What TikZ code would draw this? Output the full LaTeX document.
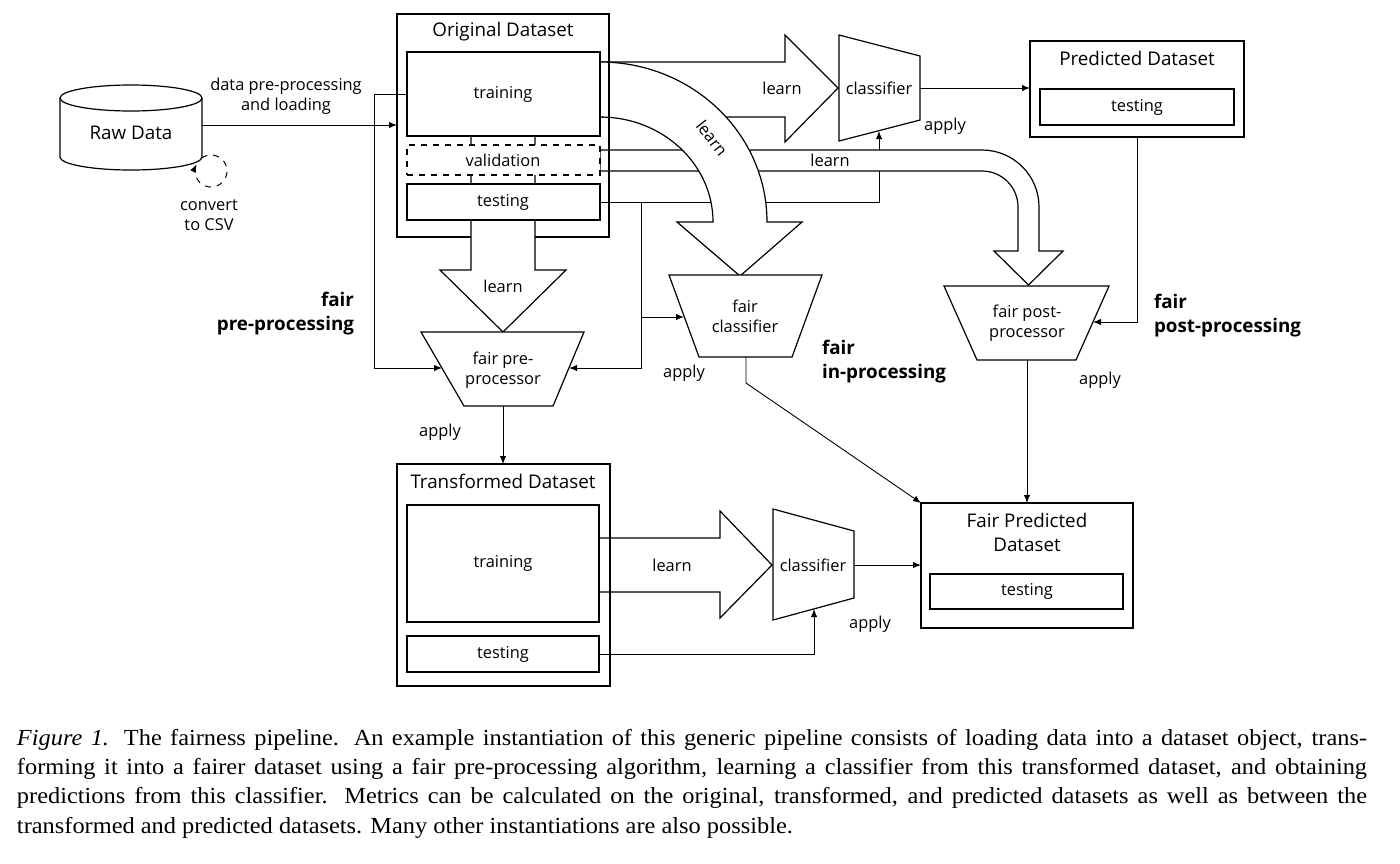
\documentclass[tikz,border=0pt]{standalone}
\usepackage{fontspec}
\setmainfont{Liberation Serif}
\newfontfamily\plexfont{Open Sans}
\newfontfamily\capfont[FakeStretch=1.06]{Liberation Serif}
\usetikzlibrary{arrows.meta,fit}
\pgfdeclarelayer{back}
\pgfdeclarelayer{mid}
\pgfsetlayers{back,mid,main}

\begin{document}
\begin{tikzpicture}[x=0.5pt,y=-0.5pt]
  \tikzstyle{every node}=[font=\plexfont\fontsize{8.2}{9.8}\selectfont,align=center,inner sep=0pt,outer sep=0pt]
  \tikzstyle{dbox}=[draw,fill=white,line width=0.6pt]
  \tikzstyle{hdr}=[font=\plexfont\fontsize{9.4}{12}\selectfont]
  \tikzstyle{fairtag}=[font=\plexfont\bfseries\fontsize{9.4}{12}\selectfont]
  \tikzstyle{fat}=[draw,fill=white,line width=0.6pt]
  \tikzstyle{wire}=[draw,line width=0.45pt]
  \tikzstyle{conn}=[wire,-{Latex[length=4pt,width=3.2pt]}]
  \useasboundingbox (0,0) rectangle (1400,863);

  % raw data
  \draw[line width=0.6pt] (131,98) ellipse [x radius=35.5pt,y radius=6.5pt];
  \draw[line width=0.6pt] (60,98) -- (60,157) arc [start angle=180,end angle=360,x radius=35.5pt,y radius=6.5pt] -- (202,98);
  \node[hdr] (raw) at (131,133) {Raw Data};
  \coordinate (rawe) at (202,125);
  \coordinate (csv) at (211,171);
  \draw[dashed,line width=0.5pt,-{Latex[length=4pt,width=3.2pt]}] (csv) ++(125:8pt) arc [start angle=125,end angle=-205,radius=8pt];
  \node (csvlbl) at (209,215) {convert\\to CSV};
  \node (loadlbl) at (286,96) {data pre-processing\\and loading};

  % original dataset
  \begin{pgfonlayer}{back}
    \node[dbox,fit={(397,14) (609,237)}] (orig) {};
    \node[dbox,fit={(397,464) (610,686)}] (trans) {};
  \end{pgfonlayer}
  \node[hdr] (origlbl) at (503,32) {Original Dataset};
  \node[dbox,fit={(407,52) (600,136)}] (otrain) {};
  \node (otrainlbl) at (503,94) {training};
  \node[dbox,dashed,fit={(407,145) (600,175)}] (oval) {};
  \node (ovallbl) at (503,160) {validation};
  \node[dbox,fit={(407,184) (600,220)}] (otest) {};
  \node (otestlbl) at (503,202) {testing};

  % predicted dataset
  \node[dbox,fit={(1030,41) (1244,137)}] (pred) {};
  \node[hdr] (predlbl) at (1137,58) {Predicted Dataset};
  \node[dbox,fit={(1040,89) (1234,125)}] (ptest) {};
  \node (ptestlbl) at (1137,107) {testing};

  % transformed dataset
  \node[hdr] (translbl) at (503,481) {Transformed Dataset};
  \node[dbox,fit={(407,505) (599,622)}] (ttrain) {};
  \node (ttrainlbl) at (503,563) {training};
  \node[dbox,fit={(407,636) (599,672)}] (ttest) {};
  \node (ttestlbl) at (503,654) {testing};

  % fair predicted dataset
  \node[dbox,fit={(921,503) (1133,628)}] (fpred) {};
  \node[hdr] (fpredlbl) at (1027,532) {Fair Predicted\\Dataset};
  \node[dbox,fit={(930,574) (1123,609)}] (fptest) {};
  \node (fptestlbl) at (1027,591) {testing};

  % classifiers and fair processors
  \draw[dbox] (839,35) -- (920,56) -- (920,120) -- (839,141) -- cycle;
  \node (clf) at (879,88) {classifier};
  \coordinate (clfe) at (920,88);
  \coordinate (clfs) at (879,131);

  \draw[dbox] (421,332) -- (584,332) -- (553,406) -- (464,406) -- cycle;
  \node (fpp) at (503,370) {fair pre-\\processor};
  \coordinate (fppw) at (442,368);
  \coordinate (fppe) at (569,368);
  \coordinate (fpps) at (503,406);

  \draw[dbox] (669,275) -- (822,275) -- (792,357) -- (699,357) -- cycle;
  \node (fcl) at (745,316) {fair\\classifier};
  \coordinate (fclw) at (684,317);
  \coordinate (fcls) at (746,357);

  \draw[dbox] (944,286) -- (1109,286) -- (1076,360) -- (977,360) -- cycle;
  \node (fpo) at (1027,323) {fair post-\\processor};
  \coordinate (fpoe) at (1093,322);
  \coordinate (fpos) at (1027,360);

  \draw[dbox] (773,509) -- (854,531) -- (854,598) -- (773,620) -- cycle;
  \node (clf2) at (813,565) {classifier};
  \coordinate (clf2e) at (854,565);
  \coordinate (clf2s) at (814,609);

  % wires and fat arrows
  \begin{pgfonlayer}{mid}
    \draw[conn] (rawe) -- (rawe -| orig.west);
    \draw[conn] (otrain.west) -- ++(-33,0) |- (fppw);
    \draw[conn] (otest.east) -| (clfs);
    \coordinate (split) at (641,202);
    \draw[conn] (split) |- (fppe);
    \draw[conn] (split |- fclw) -- (fclw);
    \draw[conn] (clfe) -- (clfe -| pred.west);
    \draw[conn] (ptest.south) |- (fpoe);
    \draw[conn] (fpos) -- (fpos |- fpred.north);
    \draw[conn] (fcls) -- ++(0,26) -- (fpred.north west);
    \draw[conn] (fpps) -- (fpps |- trans.north);
    \draw[conn] (clf2e) -- (clf2e -| fpred.west);
    \draw[conn] (ttest.east) -| (clf2s);
    \draw[fat] (600,62) -- (785,62) -- (785,35) -- (838,88) -- (785,142) -- (785,117) -- (600,117);
    \draw[fat] (600,150) -- (982,150) arc [start angle=90,end angle=0,radius=28.5pt] -- (1039,251) -- (1063,251) -- (1028.5,285) -- (994,251) -- (1018,251) -- (1018,207) arc [start angle=0,end angle=90,radius=18pt] -- (600,171) -- cycle;
    \draw[fat] (600,62) arc [start angle=90,end angle=0,x radius=83.5pt,y radius=80pt] -- (802,222) -- (740,276) -- (677,222) -- (713,222) arc [start angle=0,end angle=90,x radius=56.5pt,y radius=52.5pt] -- cycle;
    \draw[fat] (471,136) -- (471,270) -- (440,270) -- (503,332) -- (566,270) -- (535,270) -- (535,136);
    \draw[fat] (599,538) -- (720,538) -- (720,511) -- (772,565) -- (720,618) -- (720,592) -- (599,592);
  \end{pgfonlayer}
  \draw[line width=0.6pt] (orig.north east) -- (orig.south east);
  \draw[line width=0.6pt] (trans.north east) -- (trans.south east);

  % labels
  \node (lrn1) at (782,88) {learn};
  \node (lrn2) at (830,160) {learn};
  \node[rotate=-52] (lrn3) at (712,138) {learn};
  \node (lrn4) at (503,286) {learn};
  \node (lrn5) at (672,565) {learn};
  \node (app1) at (945,126) {apply};
  \node (app2) at (440,432) {apply};
  \node (app3) at (684,373) {apply};
  \node (app4) at (1100,380) {apply};
  \node (app5) at (870,624) {apply};
  \node[fairtag,anchor=east,align=right] (tagpre) at (354,314) {fair\\pre-processing};
  \node[fairtag,anchor=west,align=left] (tagin) at (822,362) {fair\\in-processing};
  \node[fairtag,anchor=west,align=left] (tagpost) at (1154,316) {fair\\post-processing};

  % caption
  \node[anchor=north west,text width=675pt,align=justify,font=\capfont\fontsize{11.5}{14.65}\selectfont] (caption) at (17,729) {\textit{Figure 1.} The fairness pipeline. An example instantiation of this generic pipeline consists of loading data into a dataset object, trans-\linebreak forming it into a fairer dataset using a fair pre-processing algorithm, learning a classifier from this transformed dataset, and obtaining\linebreak predictions from this classifier. Metrics can be calculated on the original, transformed, and predicted datasets as well as between the\linebreak transformed and predicted datasets. Many other instantiations are also possible.};
\end{tikzpicture}
\end{document}
